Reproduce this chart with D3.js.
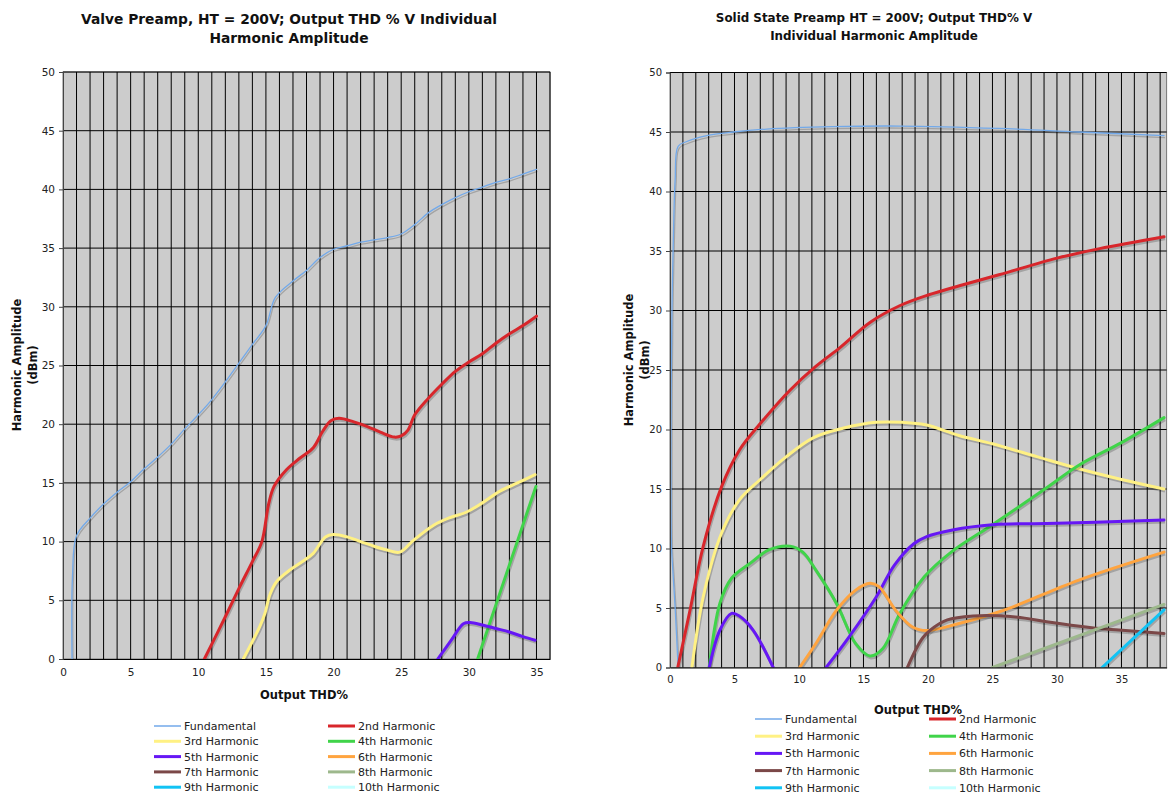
<!DOCTYPE html>
<html>
<head>
<meta charset="utf-8">
<script src="https://cdn.jsdelivr.net/npm/d3@7"></script>
<style>
  body { margin: 0; background: #fff; }
  text { font-family: "DejaVu Sans", Verdana, sans-serif; fill: #111; }
  .tick text { font-size: 10.5px; fill: #222; }
  .chart-title { font-weight: bold; text-anchor: middle; }
  .axis-label { font-size: 11.5px; font-weight: bold; text-anchor: middle; }
  .legend-label { font-size: 11px; fill: #222; }
</style>
</head>
<body>
<script>
// Shared labels and ticks
const harmonicNames = ["Fundamental", "2nd Harmonic", "3rd Harmonic", "4th Harmonic", "5th Harmonic",
  "6th Harmonic", "7th Harmonic", "8th Harmonic", "9th Harmonic", "10th Harmonic"];
const harmonicColors = ["#72a9ea", "#d8262b", "#fff184", "#40d44a", "#6617f5",
  "#ffa43f", "#7b4848", "#9db88c", "#12c3f4", "#c6ffff"];
const xTicks = [0, 5, 10, 15, 20, 25, 30, 35];
const yTicks = [0, 5, 10, 15, 20, 25, 30, 35, 40, 45, 50];

// Valve preamp: [Output THD%, amplitude dBm]
const valveFundamental = [[0.67, 0], [0.7, 7], [1, 10.5], [2, 12], [3, 13.2], [4, 14.2], [5, 15.1], [6, 16.2],
  [7, 17.2], [8, 18.3], [9, 19.6], [10, 20.8], [11, 22.1], [12, 23.6], [13, 25.2], [14, 26.8], [15, 28.4],
  [15.7, 30.8], [17, 32.2], [18, 33.1], [19, 34.2], [20, 34.9], [21, 35.2], [22, 35.5], [23, 35.7], [24, 35.9],
  [25, 36.2], [26, 37], [27, 38], [28, 38.7], [29, 39.3], [30, 39.8], [31, 40.2], [32, 40.6], [33, 40.9],
  [34, 41.3], [35, 41.7]];
const valve2nd = [[10.45, 0], [12, 3.6], [13, 6], [14, 8.3], [14.7, 10], [15.2, 13.2], [15.6, 14.7], [16.5, 16.1],
  [17.5, 17.1], [18.5, 18], [19.2, 19.4], [19.8, 20.3], [20.4, 20.5], [21.5, 20.2], [22.5, 19.8], [23.5, 19.3],
  [24.5, 18.9], [25, 19], [25.5, 19.5], [26, 20.8], [27, 22.2], [28, 23.4], [29, 24.5], [30, 25.3], [31, 26],
  [32, 26.9], [33, 27.7], [34, 28.4], [35, 29.2]];
const valve3rd = [[13.33, 0], [14.56, 2.8], [14.93, 3.9], [15.3, 5.5], [15.8, 6.6], [16.8, 7.6], [17.7, 8.3],
  [18.5, 9], [19.4, 10.4], [20, 10.6], [21, 10.4], [22, 10], [23, 9.6], [23.9, 9.3], [24.9, 9.1], [25.9, 10.1],
  [27.4, 11.4], [28.5, 12], [29.8, 12.5], [31, 13.3], [32.3, 14.3], [33.6, 15], [34.9, 15.7]];
const valve4th = [[30.65, 0], [34.96, 14.7]];
const valve5th = [[27.7, 0], [28.7, 1.6], [29.6, 3], [30.1, 3.1], [31, 2.9], [32, 2.6], [33, 2.3], [34, 1.9], [34.9, 1.6]];

// Solid state preamp
const ssFundamental = [[0.63, 0], [0.4, 5], [0.2, 8.5], [0.12, 10], [0.08, 20], [0.15, 30], [0.3, 38], [0.4, 41],
  [0.63, 43.8], [1.3, 44.2], [2.85, 44.7], [4.9, 45], [7.5, 45.25], [12.6, 45.45], [17.8, 45.5], [25.5, 45.3],
  [31.7, 45], [38.3, 44.7]];
const ss2nd = [[0.6, 0], [1.55, 4.8], [2.58, 10.2], [4, 15.2], [5.4, 18.3], [7, 20.5], [9.3, 23.3], [11.3, 25.3],
  [13.2, 26.9], [15.5, 29], [17.8, 30.4], [20, 31.3], [22.5, 32.1], [25.5, 33], [30, 34.4], [33.3, 35.2], [38.3, 36.2]];
const ss3rd = [[1.7, 0], [2.58, 5.95], [4, 11.3], [5.4, 14.1], [7, 15.8], [9, 17.7], [11.1, 19.3], [13.4, 20.1],
  [16, 20.6], [18, 20.6], [19.8, 20.4], [22.4, 19.5], [25, 18.8], [28.5, 17.7], [31.7, 16.7], [35, 15.8], [38.3, 15]];
const ss4th = [[3.04, 0], [3.87, 5.4], [4.77, 7.5], [6.2, 8.75], [7.7, 9.9], [9.3, 10.2], [10.3, 9.7], [11.3, 8.2],
  [12.9, 5.4], [14.4, 2], [15.5, 0.97], [16.5, 1.6], [17.8, 4.5], [19.7, 7.6], [21.8, 9.7], [25, 12], [29.2, 15.1],
  [31.7, 17], [35, 18.9], [38.3, 21]];
const ss5th = [[3.04, 0], [3.87, 3.15], [4.77, 4.55], [5.4, 4.3], [6.44, 3.15], [8, 0], null,
  [12.1, 0], [13.9, 2.6], [16, 5.95], [17.4, 8.6], [18.9, 10.4], [19.9, 11], [21.9, 11.56], [25, 12], [29.2, 12.1],
  [33, 12.2], [38.3, 12.4]];
const ss6th = [[10.05, 0], [11.3, 2], [12.9, 4.8], [14.4, 6.5], [15.5, 7.07], [16.2, 6.8], [17.5, 4.8], [18.8, 3.4],
  [19.9, 3.1], [22.4, 3.7], [25, 4.5], [26.6, 5.1], [31.7, 7.35], [38.3, 9.7]];
const ss7th = [[18.4, 0], [19.6, 2.5], [20.5, 3.4], [21.5, 4], [23.5, 4.33], [25.5, 4.35], [27.5, 4.15], [29.2, 3.85],
  [32.7, 3.35], [34.8, 3.15], [38.3, 2.85]];
const ss8th = [[25, 0], [38.3, 5.3]];
const ss9th = [[33.5, 0], [38.3, 4.85]];

const svg = d3.select("body").append("svg")
  .attr("width", 1168)
  .attr("height", 796);

function drawChart(c) {
  const g = svg.append("g");
  const x = d3.scaleLinear().domain([0, c.xMax]).range([c.left, c.right]);
  const y = d3.scaleLinear().domain([0, 50]).range([c.bottom, c.top]);

  // Plot background
  g.append("rect")
    .attr("x", c.left).attr("y", c.top)
    .attr("width", c.right - c.left).attr("height", c.bottom - c.top)
    .attr("fill", "#cccccc")
    .attr("stroke", "#777").attr("stroke-width", 1);

  // Grid: a vertical line every unit, horizontal every 5
  g.append("g").selectAll("line").data(d3.range(1, Math.floor(c.xMax) + 1))
    .enter().append("line")
    .attr("x1", d => x(d)).attr("x2", d => x(d))
    .attr("y1", c.top).attr("y2", c.bottom)
    .attr("stroke", "#000").attr("stroke-width", 1);
  g.append("g").selectAll("line").data(yTicks.slice(1))
    .enter().append("line")
    .attr("x1", c.left).attr("x2", c.right)
    .attr("y1", d => y(d)).attr("y2", d => y(d))
    .attr("stroke", "#000").attr("stroke-width", 1);

  // Series lines, with a soft drop shadow like the original
  const clipId = "clip-" + c.id;
  svg.append("clipPath").attr("id", clipId).append("rect")
    .attr("x", c.left).attr("y", c.top)
    .attr("width", c.right - c.left).attr("height", c.bottom - c.top);

  const line = d3.line()
    .defined(d => d !== null)
    .x(d => x(d[0]))
    .y(d => y(d[1]))
    .curve(d3.curveCatmullRom.alpha(0.5));

  const lines = g.append("g").attr("clip-path", `url(#${clipId})`);
  c.series.forEach((data, i) => {
    if (!data || data.length === 0) return;
    const w = i === 0 ? 1.3 : 3;
    lines.append("path")
      .attr("d", line(data))
      .attr("fill", "none")
      .attr("stroke", "rgba(0,0,0,0.2)")
      .attr("stroke-width", w)
      .attr("transform", "translate(1,2)");
    lines.append("path")
      .attr("d", line(data))
      .attr("fill", "none")
      .attr("stroke", harmonicColors[i])
      .attr("stroke-width", w)
      .attr("stroke-linejoin", "round")
      .attr("stroke-linecap", "round");
  });

  // Axes
  const yAxis = g.append("g")
    .attr("transform", `translate(${c.left},0)`)
    .call(d3.axisLeft(y).tickValues(yTicks).tickSize(4).tickPadding(4));
  yAxis.select(".domain").attr("stroke", "#444");
  yAxis.selectAll(".tick line").attr("stroke", "#444");

  const xAxis = g.append("g")
    .attr("transform", `translate(0,${c.bottom})`)
    .call(d3.axisBottom(x).tickValues(xTicks).tickSize(0).tickPadding(c.xPad));
  xAxis.select(".domain").attr("stroke", "#000");
  g.selectAll(".tick text").style("font-size", c.tickFont + "px");

  // Titles
  c.title.forEach((t, i) => {
    g.append("text").classed("chart-title", true)
      .style("font-size", c.titleFont + "px")
      .attr("x", c.titleX).attr("y", c.titleY + i * c.titleStep)
      .text(t);
  });
  g.append("text").classed("axis-label", true)
    .attr("x", c.xLabelX).attr("y", c.xLabelY)
    .text("Output THD%");
  const yl = g.append("text").classed("axis-label", true)
    .attr("transform", `translate(${c.yLabelX},${c.yLabelY}) rotate(-90)`);
  yl.append("tspan").attr("x", 0).attr("dy", 0).text("Harmonic Amplitude");
  yl.append("tspan").attr("x", 0).attr("dy", 16).text("(dBm)");

  // Legend, two columns
  const leg = g.append("g");
  harmonicNames.forEach((name, i) => {
    const col = i % 2, row = Math.floor(i / 2);
    const lx = c.legendX[col], ly = c.legendY + row * c.legendStep;
    leg.append("line")
      .attr("x1", lx).attr("x2", lx + 27)
      .attr("y1", ly).attr("y2", ly)
      .attr("stroke", harmonicColors[i])
      .attr("stroke-width", i === 0 ? 1.5 : 3);
    leg.append("text").classed("legend-label", true)
      .attr("x", lx + 30).attr("y", ly + 4)
      .text(name);
  });
}

drawChart({
  id: "valve",
  left: 63, right: 550, top: 72, bottom: 659, xMax: 36, xPad: 10, tickFont: 10.5,
  title: ["Valve Preamp, HT = 200V; Output THD % V Individual", "Harmonic Amplitude"],
  titleFont: 13.8, titleX: 289, titleY: 24, titleStep: 19,
  xLabelX: 304, xLabelY: 699,
  yLabelX: 21, yLabelY: 365,
  legendX: [154, 328], legendY: 726, legendStep: 15.3,
  series: [valveFundamental, valve2nd, valve3rd, valve4th, valve5th, [], [], [], [], []]
});

drawChart({
  id: "solid",
  left: 670, right: 1166.6, top: 72.5, bottom: 667.5, xMax: 38.5, xPad: 8, tickFont: 10,
  title: ["Solid State Preamp HT = 200V; Output THD% V", "Individual Harmonic Amplitude"],
  titleFont: 11.9, titleX: 874, titleY: 21.5, titleStep: 18,
  xLabelX: 918, xLabelY: 714,
  yLabelX: 633, yLabelY: 360,
  legendX: [755, 929], legendY: 719, legendStep: 17.2,
  series: [ssFundamental, ss2nd, ss3rd, ss4th, ss5th, ss6th, ss7th, ss8th, ss9th, []]
});
</script>
</body>
</html>
